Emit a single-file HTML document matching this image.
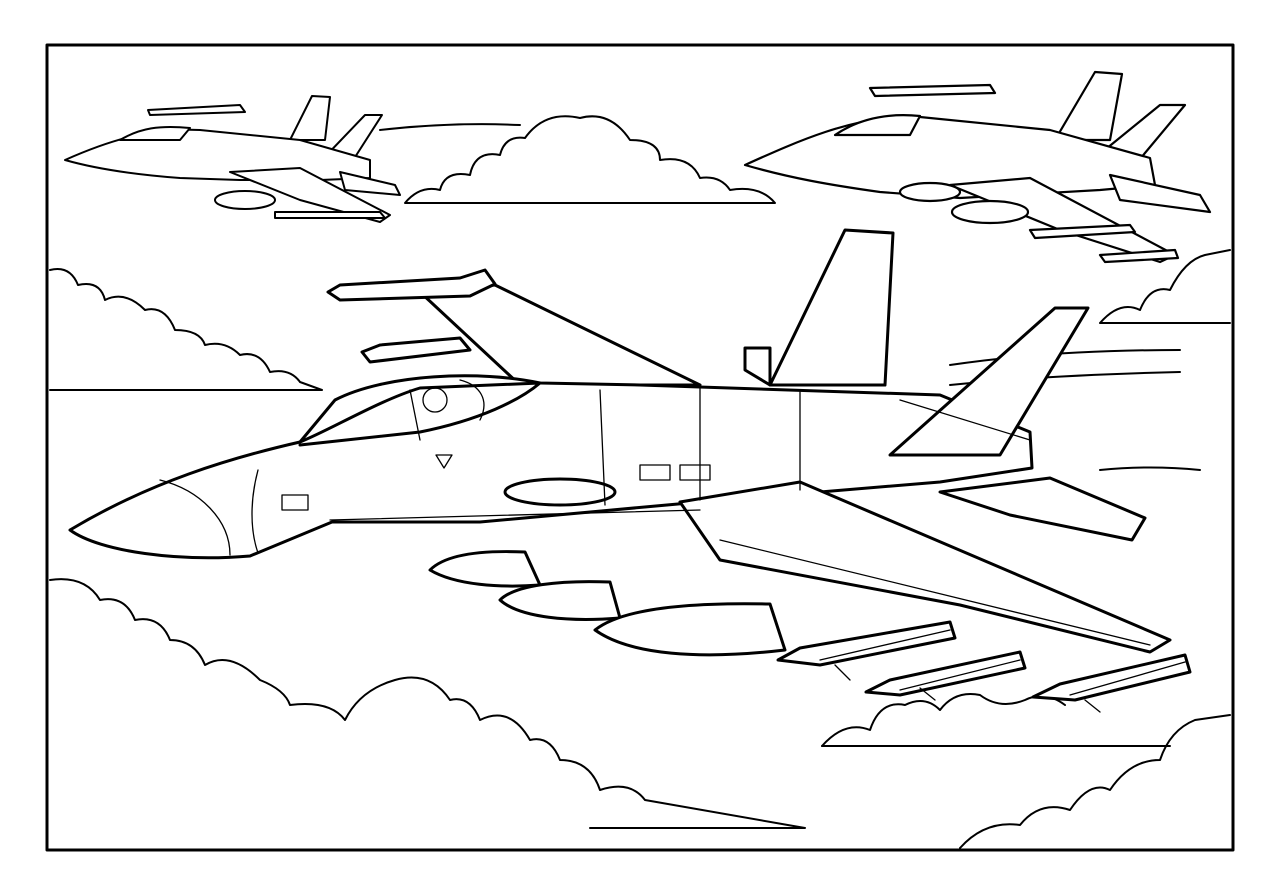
<!DOCTYPE html>
<html><head><meta charset="utf-8"><style>html,body{margin:0;padding:0;background:#fff}svg{display:block}</style></head>
<body>
<svg width="1280" height="896" viewBox="0 0 1280 896" xmlns="http://www.w3.org/2000/svg" fill="none" stroke="#000" stroke-linejoin="round" stroke-linecap="round">
<rect x="0" y="0" width="1280" height="896" fill="#fff" stroke="none"/>
<rect x="47" y="45" width="1186" height="805" stroke-width="3"/>

<g stroke-width="2">
<path d="M405,203 Q420,185 440,190 Q445,170 470,175 Q475,150 500,155 Q505,135 525,138 Q545,110 580,118 Q610,110 630,140 Q660,140 660,160 Q690,155 700,178 Q720,175 730,190 Q760,185 775,203 Z" fill="#fff"/>
<path d="M50,270 Q70,265 78,285 Q100,280 105,300 Q125,290 145,310 Q165,305 175,330 Q200,330 205,345 Q225,340 240,355 Q260,350 270,372 Q290,368 300,382 L322,390 L50,390"/>
<path d="M50,580 Q85,575 100,600 Q125,595 135,620 Q160,615 170,640 Q195,640 205,665 Q230,650 260,680 Q285,690 290,705 Q330,700 345,720 Q360,690 395,680 Q430,670 450,700 Q470,695 480,720 Q510,705 530,740 Q550,735 560,760 Q590,760 600,790 Q630,780 645,800 L805,828 L590,828"/>
<path d="M1100,323 Q1120,300 1140,310 Q1150,285 1170,290 Q1185,260 1205,255 L1230,250 M1100,323 L1230,323"/>
<path d="M822,746 Q845,720 870,730 Q880,700 905,705 Q925,695 940,710 Q955,690 980,695 Q1000,710 1025,700 Q1045,690 1065,705"/>
<path d="M822,746 L1170,746"/>
<path d="M960,848 Q985,820 1020,825 Q1040,800 1070,810 Q1090,780 1110,790 Q1130,760 1160,760 Q1170,730 1195,720 L1230,715"/>
<path d="M380,130 Q450,122 520,125 M940,130 Q980,125 1020,128 M950,365 Q1050,350 1180,350 M950,385 Q1050,375 1180,372 M1100,470 Q1150,465 1200,470"/>
</g>

<g stroke-width="3" fill="#fff">
<polygon points="420,292 495,285 700,385 520,385"/>
<path d="M328,292 L340,285 L460,278 L485,270 L495,284 L470,296 L340,300 Z"/>
<path d="M362,352 L380,345 L460,338 L470,350 L370,362 Z"/>
<polygon points="770,385 845,230 893,233 885,385"/>
<polygon points="745,348 770,348 770,385 745,370"/>
<path d="M70,530 C150,482 230,458 300,442 L335,400 C385,374 480,370 540,383 L640,385 L940,395 L1030,432 L1032,468 L940,482 L700,502 L480,522 L332,522 L250,556 C180,562 100,552 70,530 Z"/>
<polygon points="680,502 800,482 1170,640 1150,652 960,605 720,560"/>
<polygon points="940,492 1050,478 1145,518 1132,540 1010,515"/>
<polygon points="890,455 1055,308 1088,308 1000,455"/>
<path d="M300,442 C330,430 380,400 420,388 L540,383 C520,400 480,420 420,432 L300,445"/>
<path d="M430,570 C445,555 480,550 525,552 L540,585 C500,588 455,585 430,570 Z"/>
<path d="M500,600 C515,585 560,580 610,582 L620,618 C570,622 520,618 500,600 Z"/>
<path d="M595,630 C620,610 680,602 770,604 L785,650 C700,660 630,655 595,630 Z"/>
<path d="M778,660 L800,648 L950,622 L955,638 L820,665 Z"/>
<path d="M866,692 L890,680 L1020,652 L1025,668 L900,695 Z"/>
<path d="M1033,697 L1060,684 L1185,655 L1190,672 L1075,700 Z"/>
<ellipse cx="560" cy="492" rx="55" ry="13"/>
</g>
<g stroke-width="1.3">
<path d="M160,480 C200,490 230,520 230,555 M258,470 C250,500 250,530 258,553 M600,390 L605,505 M700,385 L700,500 M800,392 L800,490 M330,520 L700,510 M720,540 L1150,645 M640,465 L670,465 L670,480 L640,480 Z M680,465 L710,465 L710,480 L680,480 Z M436,455 L452,455 L444,468 Z M282,495 L308,495 L308,510 L282,510 Z M900,400 L1030,440 M820,660 L950,630 M900,690 L1020,660 M1070,695 L1185,662 M835,665 L850,680 M920,688 L935,700 M1085,700 L1100,712"/>
<circle cx="435" cy="400" r="12"/>
<path d="M410,390 L420,440 M460,380 C480,385 490,400 480,420"/>
</g>

<g stroke-width="2" fill="#fff">
<polygon points="290,140 312,96 330,97 325,140"/>
<polygon points="320,162 365,115 382,115 350,165"/>
<path d="M65,160 C110,140 150,128 200,130 L300,140 L370,160 L370,178 L320,180 L240,180 L180,178 C140,175 100,170 65,160 Z"/>
<polygon points="230,172 300,168 390,215 380,222 300,200"/>
<polygon points="340,172 395,185 400,195 345,190"/>
<ellipse cx="245" cy="200" rx="30" ry="9"/>
<path d="M148,110 L240,105 L245,112 L150,115 Z M275,212 L380,212 L385,218 L275,218 Z"/>
<path d="M120,140 C140,128 160,125 190,128 L180,140 Z"/>
</g>

<g stroke-width="2.2" fill="#fff">
<polygon points="1055,140 1095,72 1122,74 1110,140"/>
<polygon points="1090,162 1160,105 1185,105 1135,165"/>
<path d="M745,165 C800,140 850,118 910,116 L1050,130 L1150,158 L1155,185 L1100,190 L960,198 L880,192 C830,185 790,178 745,165 Z"/>
<polygon points="950,185 1030,178 1175,255 1160,262 1060,230"/>
<polygon points="1110,175 1200,195 1210,212 1120,200"/>
<ellipse cx="990" cy="212" rx="38" ry="11"/>
<ellipse cx="930" cy="192" rx="30" ry="9"/>
<path d="M870,88 L990,85 L995,93 L875,96 Z M1030,230 L1130,225 L1135,232 L1035,238 Z M1100,255 L1175,250 L1178,258 L1105,262 Z"/>
<path d="M835,135 C860,118 890,113 920,116 L910,135 Z"/>
</g>
</svg>
</body></html>
